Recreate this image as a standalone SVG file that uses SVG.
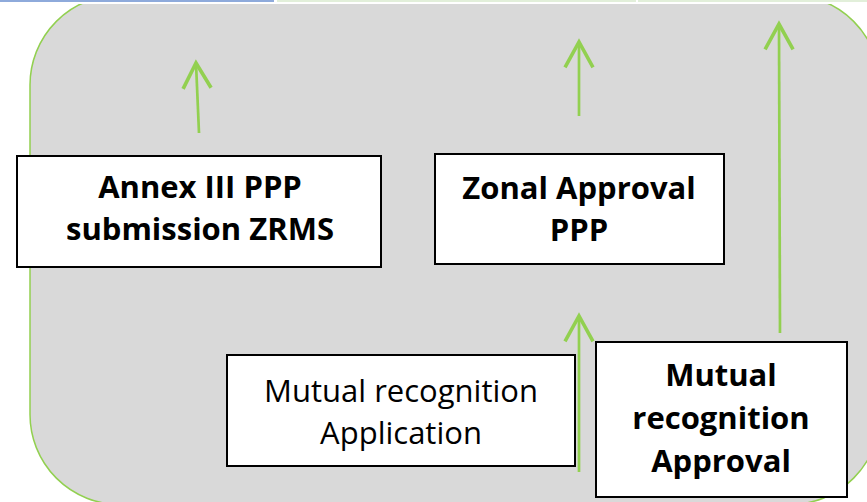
<svg xmlns="http://www.w3.org/2000/svg" width="867" height="502" viewBox="0 0 867 502">
<style>
.bg{fill:#d9d9d9;stroke:#92d050;stroke-width:1.5}
.box{fill:#ffffff;stroke:#000000;stroke-width:2}
.bt{font-family:"Open Sans","Liberation Sans",sans-serif;font-weight:700;font-size:31px;fill:#000;text-anchor:middle}
.rt{font-family:"Open Sans","Liberation Sans",sans-serif;font-weight:400;font-size:31px;fill:#000;text-anchor:middle}
.arr{fill:none;stroke:#92d050;stroke-width:2.7;marker-end:url(#ah)}
</style>
<defs>
<marker id="ah" markerUnits="userSpaceOnUse" orient="auto" refX="0" refY="0" markerWidth="40" markerHeight="40" viewBox="-25 -15 30 30" overflow="visible">
<path d="M-19,-10.5 L0,0 L-19,10.5" fill="none" stroke="#92d050" stroke-width="2.7"/>
</marker>
</defs>
<rect x="0" y="0" width="867" height="502" fill="#ffffff"/>
<g id="background">
<rect class="bg" x="30" y="-5" width="850" height="509.5" rx="90" ry="90"/>
<rect x="0" y="0" width="867" height="4" fill="#ffffff"/>
<rect x="0" y="0" width="274" height="2" fill="#8eaadb"/>
<rect x="277" y="0" width="359" height="2" fill="#e2efda"/>
<rect x="638" y="0" width="229" height="2" fill="#e2efda"/>
</g>
<g id="connectors">
<line class="arr" x1="199" y1="133" x2="196" y2="63"/>
<line class="arr" x1="579" y1="116" x2="579" y2="42"/>
<line class="arr" x1="780" y1="333" x2="779" y2="24"/>
<line class="arr" x1="579" y1="472" x2="579" y2="316"/>
</g>
<g id="annex">
<rect class="box" x="17" y="156" width="364" height="111"/>
<text class="bt" x="200" y="198">Annex III PPP</text>
<text class="bt" x="200" y="240">submission ZRMS</text>
</g>
<g id="zonal">
<rect class="box" x="435" y="154" width="289" height="110"/>
<text class="bt" x="579" y="199">Zonal Approval</text>
<text class="bt" x="579" y="241">PPP</text>
</g>
<g id="mr-application">
<rect class="box" x="227" y="355" width="348" height="111"/>
<text class="rt" x="401" y="402">Mutual recognition</text>
<text class="rt" x="401" y="444">Application</text>
</g>
<g id="mr-approval">
<rect class="box" x="596" y="342" width="251" height="155"/>
<text class="bt" x="721" y="386">Mutual</text>
<text class="bt" x="721" y="429">recognition</text>
<text class="bt" x="721" y="472">Approval</text>
</g>
</svg>
